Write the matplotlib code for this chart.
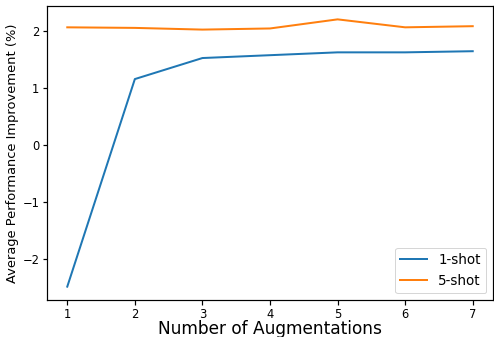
import matplotlib
matplotlib.use("Agg")
import matplotlib.pyplot as plt

augmentations = [1, 2, 3, 4, 5, 6, 7]
one_shot = [-2.49, 1.16, 1.53, 1.58, 1.63, 1.63, 1.65]
five_shot = [2.07, 2.06, 2.03, 2.05, 2.21, 2.07, 2.09]

fig = plt.figure(figsize=(494 / 72, 337 / 72), dpi=72)
ax = fig.add_axes([47 / 494, 1 - 300 / 337, (493 - 47) / 494, (300 - 6) / 337])

ax.plot(augmentations, one_shot, color="#1f77b4", lw=2.0, label="1-shot")
ax.plot(augmentations, five_shot, color="#ff7f0e", lw=2.0, label="5-shot")

ax.set_xticks(augmentations)
ax.set_yticks([-2, -1, 0, 1, 2])
ax.tick_params(axis="both", labelsize=11.5, length=4.5, width=1.2, pad=3)
for s in ax.spines.values():
    s.set_linewidth(1.2)

ax.set_xlabel("Number of Augmentations", fontsize=17, labelpad=0)
ax.set_ylabel("Average Performance Improvement (%)", fontsize=13, labelpad=3)
ax.legend(loc="lower right", fontsize=13.5, handlelength=2.0)

fig.savefig("out.png", dpi=72)
